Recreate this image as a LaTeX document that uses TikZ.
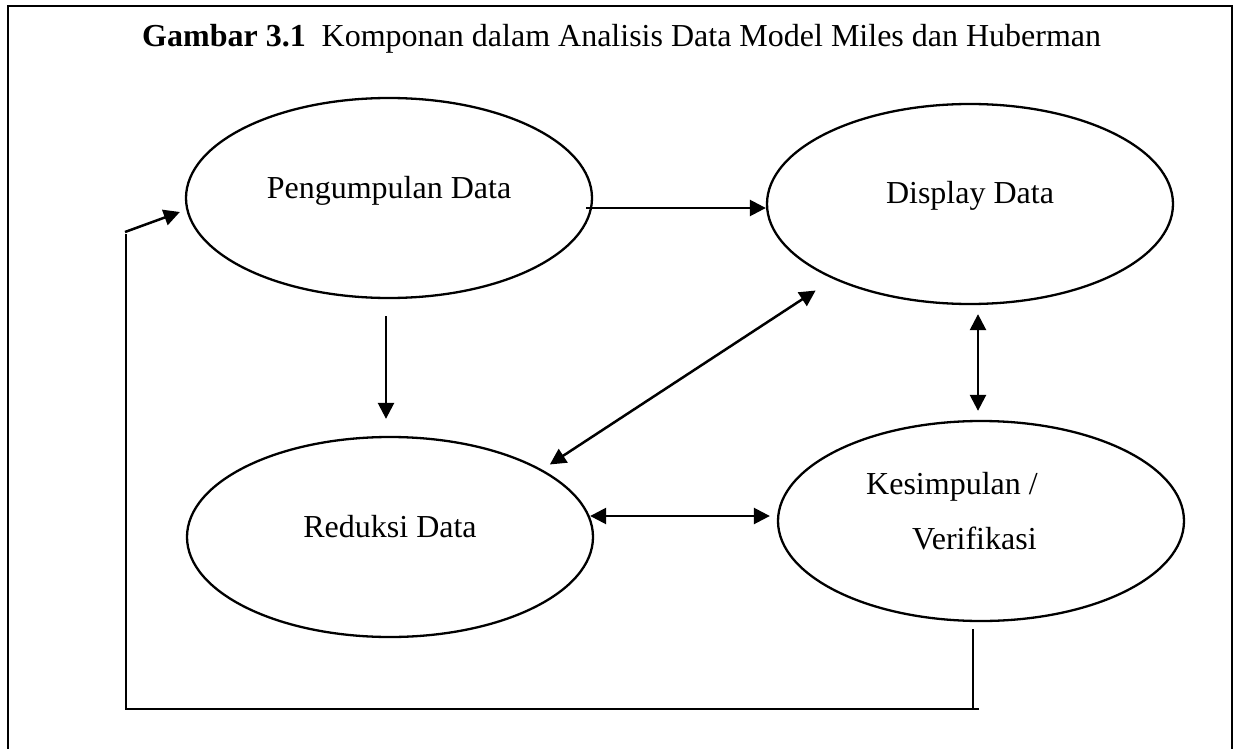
\documentclass[tikz,border=0pt]{standalone}
\usepackage{fontspec}
\setmainfont{Liberation Serif}
\usetikzlibrary{arrows.meta,calc,shapes.geometric}
\begin{document}
\begin{tikzpicture}[x=1pt,y=-1pt,
  ell/.style={ellipse,draw,line width=2.3pt,minimum width=406pt,minimum height=200pt,inner sep=0pt},
  lbl/.style={font=\fontsize{32}{38}\selectfont,inner sep=0pt},
  tip/.style={},
  arr/.style={line width=2.5pt,-{Triangle[length=16pt,width=16pt]}},
  darr/.style={line width=2.5pt,{Triangle[length=16pt,width=16pt]}-{Triangle[length=16pt,width=16pt]}},
  fb/.style={line width=1.1pt},
  frame/.style={line width=2pt}]
\useasboundingbox (0,0) rectangle (1237,749);
\draw[frame] (8,749) -- (8,6) -- (1232,6) -- (1232,749);
\node[lbl,anchor=base west] (title) at (142,47) {\textbf{Gambar 3.1}\ \ Komponan dalam Analisis Data Model Miles dan Huberman};
\node[ell] (p) at (389,198) {};
\node[ell] (d) at (970,204) {};
\node[ell] (r) at (390,537) {};
\node[ell] (k) at (981,521) {};
\node[lbl,anchor=base] (pt) at (389,198) {Pengumpulan Data};
\node[lbl,anchor=base] (dt) at (970,203) {Display Data};
\node[lbl,anchor=base] (rt) at (390,537) {Reduksi Data};
\node[lbl,anchor=base west] (kt1) at (866,494) {Kesimpulan /};
\node[lbl,anchor=base west] (kt2) at (912,549) {Verifikasi};
\coordinate (fbr) at (979,709);
\coordinate (fbl) at (126,709);
\coordinate (fbt) at (126,234);
\coordinate (fbs) at (125,232);
\draw[fb] ($(k.south)+(-8,7)$) -- ($(k.south)+(-8,88)$);
\draw[fb] (fbr) -- (fbl) -- (fbt);
\draw[arr] (fbs) -- ($(p.west)+(-5,14)$);
\draw[arr] ($(p.south)+(-3,17)$) -- ($(r.north)+(-4,-17)$);
\draw[arr] ($(p.east)+(-7,10)$) -- ($(d.west)+(0,4)$);
\draw[darr] ($(r.north east)+(15.5,-1)$) -- ($(d.south west)+(-10,15)$);
\draw[darr] ($(d.south)+(8,9)$) -- ($(k.north)+(-3,-9)$);
\draw[darr] ($(r.east)+(-4,-21)$) -- ($(k.west)+(-7,-5)$);
\end{tikzpicture}
\end{document}
